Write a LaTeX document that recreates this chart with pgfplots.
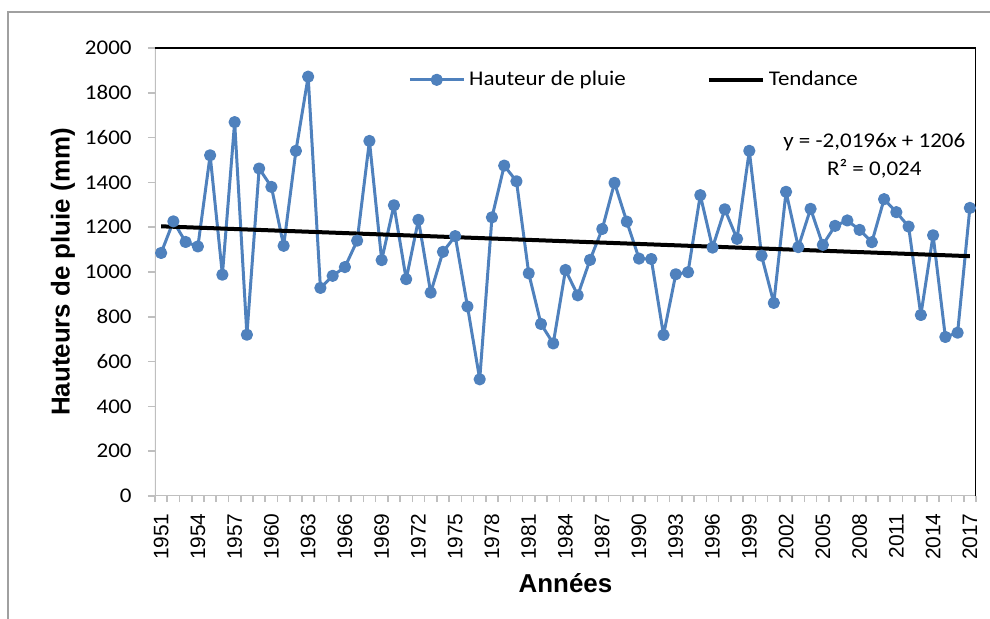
\documentclass[border=0pt]{standalone}
\usepackage{fontspec}
\setmainfont{Liberation Sans}
\newfontfamily\calfont[FakeStretch=1.1]{Carlito}
\usepackage{pgfplots}
\usepackage{pgfplotstable}
\pgfplotsset{compat=1.18}
\definecolor{pluieblue}{HTML}{4F81BD}
\definecolor{axisgray}{RGB}{191,191,191}
\definecolor{framegray}{RGB}{160,160,160}

\pgfplotstableread{
x y
1 1085
2 1226
3 1134
4 1114
5 1521
6 988
7 1669
8 720
9 1462
10 1380
11 1117
12 1541
13 1872
14 929
15 983
16 1022
17 1140
18 1585
19 1053
20 1298
21 968
22 1233
23 908
24 1090
25 1160
26 846
27 521
28 1244
29 1475
30 1405
31 994
32 768
33 681
34 1009
35 896
36 1054
37 1192
38 1398
39 1225
40 1060
41 1058
42 719
43 990
44 999
45 1343
46 1109
47 1280
48 1148
49 1541
50 1073
51 862
52 1358
53 1111
54 1282
55 1121
56 1206
57 1230
58 1188
59 1133
60 1325
61 1267
62 1203
63 808
64 1164
65 710
66 729
67 1286
}\pluie

\begin{document}
\begin{tikzpicture}
\useasboundingbox (-77.5bp,-61.5bp) rectangle (417.5bp,248bp);
\begin{axis}[
  at={(0,0)}, anchor=south west,
  scale only axis, width=410.5bp, height=224bp,
  xmin=0.5, xmax=67.5, ymin=0, ymax=2000,
  axis line style={draw=none},
  xtick pos=bottom, ytick pos=left,
  xtick={1,4,...,67},
  xticklabels={1951,1954,1957,1960,1963,1966,1969,1972,1975,1978,1981,1984,1987,1990,1993,1996,1999,2002,2005,2008,2011,2014,2017},
  minor xtick={0.5,1.5,...,67.5},
  ytick={0,200,...,2000},
  /pgf/number format/1000 sep={},
  /pgf/number format/assume math mode=true,
  tick align=outside,
  major tick length=3.5bp, minor tick length=3bp,
  major x tick style={draw=none},
  minor x tick style={draw=axisgray, line width=0.8bp},
  ytick style={draw=axisgray, line width=0.8bp},
  yticklabel style={font=\calfont\fontsize{10.5}{12}\selectfont, inner sep=0pt, anchor=east},
  yticklabel shift=8bp,
  xticklabel style={rotate=90, anchor=east, font=\fontsize{10.5}{12}\selectfont, inner sep=0pt},
  xticklabel shift=5bp,
  xlabel={Années},
  ylabel={Hauteurs de pluie (mm)},
  xlabel style={at={(axis description cs:0.5,-0.194)}, anchor=center, font=\bfseries\fontsize{13}{15}\selectfont},
  ylabel style={at={(axis description cs:-0.112,0.5)}, anchor=center, font=\bfseries\fontsize{13}{15}\selectfont},
  legend style={draw=none, fill=none, at={(0.308,0.929)}, anchor=west,
    font=\calfont\fontsize{10.5}{12}\selectfont, inner sep=0pt,
    /tikz/every even column/.append style={column sep=38.5bp}},
  legend columns=2,
  legend cell align=left,
  legend image code/.code={\draw[mark repeat=2,mark phase=2,#1] plot coordinates {(0bp,0bp) (13.5bp,0bp) (27bp,0bp)};},
]
\addplot[color=pluieblue, line width=1.5bp, line join=round, mark=*, mark size=2.3bp, mark options={solid, fill=pluieblue, draw=pluieblue}] table[x=x,y=y]{\pluie};
\addlegendentry{Hauteur de pluie}
\addplot[black, line width=2bp] coordinates {(1,1203.98) (67,1070.69)};
\addlegendentry{Tendance}
\node[font=\calfont\fontsize{10.5}{14}\selectfont, align=center] at (axis cs:59.2,1518) {y = -2,0196x + 1206\\R² = 0,024};
\draw[axisgray, line width=1bp] (rel axis cs:0,1) -- (rel axis cs:0,0) -- (rel axis cs:1,0);
\draw[black, line width=1bp] (rel axis cs:0,1) -- (rel axis cs:1,1) -- (rel axis cs:1,0);
\end{axis}
\draw[framegray, line width=1bp] (-73.5bp,-61.5bp) -- (-73.5bp,242bp) -- (417.5bp,242bp);
\end{tikzpicture}
\end{document}
